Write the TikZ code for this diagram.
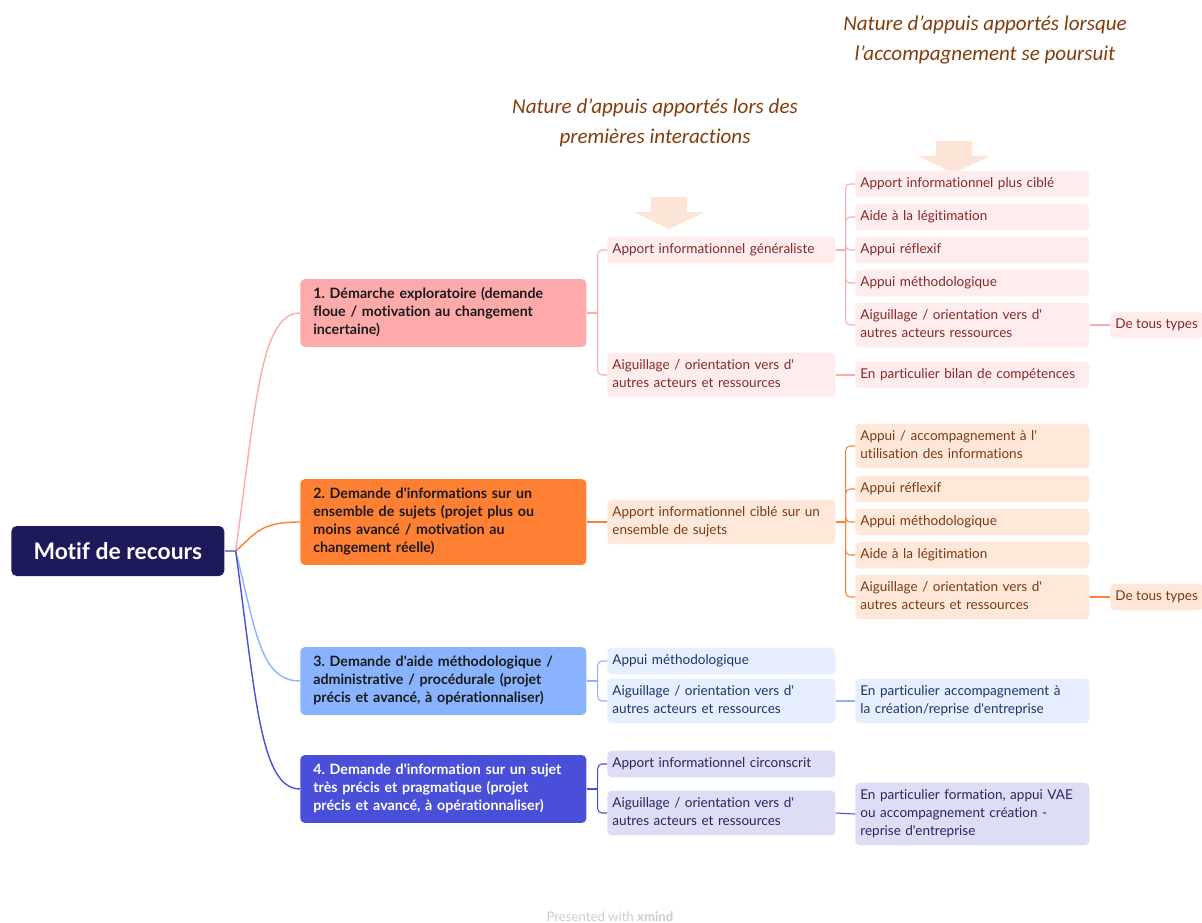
\documentclass[tikz,border=0pt]{standalone}
\usepackage{fontspec}
\newfontfamily\mapfont[Ligatures=CommonOff]{Lato}
\newfontfamily\headfont[Ligatures=CommonOff]{Carlito}
\usetikzlibrary{calc}

\definecolor{rootnavy}{HTML}{1C1A5A}
\definecolor{rootlink}{HTML}{7F84E8}
\definecolor{pinkA}{HTML}{FFAAAA}
\definecolor{pinkL}{HTML}{FFEDED}
\definecolor{pinkT}{HTML}{862828}
\definecolor{orangeB}{HTML}{FF7F33}
\definecolor{orangeL}{HTML}{FFE8DA}
\definecolor{orangeT}{HTML}{7A3A14}
\definecolor{blueC}{HTML}{8AB3FF}
\definecolor{blueL}{HTML}{E6EEFF}
\definecolor{blueT}{HTML}{1E3566}
\definecolor{violetD}{HTML}{4A4FD9}
\definecolor{violetL}{HTML}{DDDDF6}
\definecolor{violetT}{HTML}{26265E}
\definecolor{motifT}{HTML}{1A1A1A}
\definecolor{headbrown}{HTML}{843C0C}
\definecolor{arrowpeach}{HTML}{FCE4D6}

\tikzset{
  rootbox/.style={rectangle, rounded corners=3pt, anchor=west, fill=rootnavy, text=white,
    minimum width=4.26cm, minimum height=1cm, font=\mapfont\bfseries\fontsize{13}{15}\selectfont},
  motif/.style={rectangle, rounded corners=2.5pt, anchor=west, align=left, text=motifT,
    text width=5.2cm, inner xsep=0.26cm, inner ysep=0.14cm,
    font=\mapfont\bfseries\fontsize{8.1}{10.2}\selectfont\frenchspacing,
    execute at begin node=\strut, execute at end node=\strut},
  leaf/.style={rectangle, rounded corners=2.5pt, anchor=west, align=left,
    inner xsep=0.1cm, inner ysep=0.09cm, font=\mapfont\fontsize{7.7}{10.2}\selectfont\frenchspacing,
    execute at begin node=\strut, execute at end node=\strut},
  appui/.style={leaf, text width=4.36cm},
  detail/.style={leaf, text width=4.48cm},
  pinkleaf/.style={fill=pinkL, text=pinkT},
  orangeleaf/.style={fill=orangeL, text=orangeT},
  blueleaf/.style={fill=blueL, text=blueT},
  violetleaf/.style={fill=violetL, text=violetT},
  link/.style={line width=0.6pt},
  trunk/.style={line width=0.8pt},
  bracket/.style={link, rounded corners=2.5pt},
  heading/.style={align=center, text=headbrown, font=\headfont\itshape\fontsize{12}{17}\selectfont},
  supply/.style={fill=arrowpeach, draw=none}
}

\begin{document}
\begin{tikzpicture}[x=0.02cm, y=-0.02cm]
\useasboundingbox (0,0) rectangle (1202,922);

% headings and arrows
\node[heading] (headFirst) at (655,123) {Nature d’appuis apportés lors des\\premières interactions};
\node[heading] (headNext) at (985,40) {Nature d’appuis apportés lorsque\\l’accompagnement se poursuit};

\foreach \ax/\ay in {669/197, 954/141}{
  \begin{scope}[shift={(\ax,\ay)}]
    \fill[supply] (-18,0) -- (18,0) -- (18,15) -- (36,15) -- (0,32) -- (-36,15) -- (-18,15) -- cycle;
  \end{scope}
}

% root and motives
\node[rootbox] (root) at (11,551) {Motif de recours};

\node[motif, fill=pinkA] (mA) at (300,313)
  {1. Démarche exploratoire (demande\\floue / motivation au changement\\incertaine)};
\node[motif, fill=orangeB] (mB) at (300,522)
  {2. Demande d'informations sur un\\ensemble de sujets (projet plus ou\\moins avancé / motivation au\\changement réelle)};
\node[motif, fill=blueC] (mC) at (300,681)
  {3. Demande d'aide méthodologique /\\administrative / procédurale (projet\\précis et avancé, à opérationnaliser)};
\node[motif, fill=violetD, text=white] (mD) at (300,789)
  {4. Demande d'information sur un sujet\\très précis et pragmatique (projet\\précis et avancé, à opérationnaliser)};

\draw[trunk, rootlink] (root.east) -- ++(11,0) coordinate (hub);
\foreach \m/\c in {mA/pinkA, mB/orangeB, mC/blueC, mD/violetD}
  \draw[trunk, draw=\c] (hub) .. controls ($(hub)!0.6!(hub|-\m.west)+(20,0)$)
    and ($(hub|-\m.west)+(24,0)$) .. (\m.west);

% first interactions
\node[appui, pinkleaf] (aA1) at (607,250) {Apport informationnel généraliste};
\node[appui, pinkleaf] (aA2) at (607,375) {Aiguillage / orientation vers d'\\autres acteurs et ressources};
\node[appui, orangeleaf] (aB1) at (607,522) {Apport informationnel ciblé sur un\\ensemble de sujets};
\node[appui, blueleaf] (aC1) at (607,661) {Appui méthodologique};
\node[appui, blueleaf] (aC2) at (607,701) {Aiguillage / orientation vers d'\\autres acteurs et ressources};
\node[appui, violetleaf] (aD1) at (607,764) {Apport informationnel circonscrit};
\node[appui, violetleaf] (aD2) at (607,813) {Aiguillage / orientation vers d'\\autres acteurs et ressources};

\draw[bracket, pinkA] (mA.east) -- ++(11,0) coordinate (jA);
\foreach \n in {aA1, aA2} \draw[bracket, pinkA] (jA) |- (\n.west);
\draw[link, orangeB] (mB.east) -- (aB1.west);
\draw[bracket, blueC] (mC.east) -- ++(11,0) coordinate (jC);
\foreach \n in {aC1, aC2} \draw[bracket, blueC] (jC) |- (\n.west);
\draw[bracket, violetD] (mD.east) -- ++(11,0) coordinate (jD);
\foreach \n in {aD1, aD2} \draw[bracket, violetD] (jD) |- (\n.west);

% follow-up
\foreach \t/\y [count=\i] in {Apport informationnel plus ciblé/184, Aide à la légitimation/217,
    Appui réflexif/250, Appui méthodologique/283}
  \node[detail, pinkleaf] (dA\i) at (855,\y) {\t};
\node[detail, pinkleaf] (dA5) at (855,325) {Aiguillage / orientation vers d'\\autres acteurs ressources};
\node[detail, pinkleaf] (dA6) at (855,375) {En particulier bilan de compétences};
\node[leaf, pinkleaf] (eA) at (1110,325) {De tous types};

\node[detail, orangeleaf] (dB1) at (855,446) {Appui / accompagnement à l'\\utilisation des informations};
\foreach \t/\y [count=\i from 2] in {Appui réflexif/489, Appui méthodologique/522, Aide à la légitimation/555}
  \node[detail, orangeleaf] (dB\i) at (855,\y) {\t};
\node[detail, orangeleaf] (dB5) at (855,597) {Aiguillage / orientation vers d'\\autres acteurs et ressources};
\node[leaf, orangeleaf] (eB) at (1110,597) {De tous types};

\node[detail, blueleaf] (dC) at (855,701) {En particulier accompagnement à\\la création/reprise d'entreprise};
\node[detail, violetleaf] (dD) at (855,814) {En particulier formation, appui VAE\\ou accompagnement création -\\reprise d'entreprise};

\draw[bracket, pinkA] (aA1.east) -- ++(10,0) coordinate (jA1);
\foreach \n in {dA1, dA2, dA3, dA4, dA5} \draw[bracket, pinkA] (jA1) |- (\n.west);
\draw[link, pinkA] (aA2.east) -- (dA6.west);
\draw[link, pinkA] (dA5.east) -- (eA.west);
\draw[bracket, orangeB] (aB1.east) -- ++(10,0) coordinate (jB1);
\foreach \n in {dB1, dB2, dB3, dB4, dB5} \draw[bracket, orangeB] (jB1) |- (\n.west);
\draw[link, orangeB] (dB5.east) -- (eB.west);
\draw[link, blueC] (aC2.east) -- (dC.west);
\draw[link, violetD] (aD2.east) -- (dD.west);

\node[text=gray!40, font=\mapfont\fontsize{7.5}{9}\selectfont] (credit) at (610,917) {Presented with \textbf{xmind}};
\end{tikzpicture}
\end{document}
